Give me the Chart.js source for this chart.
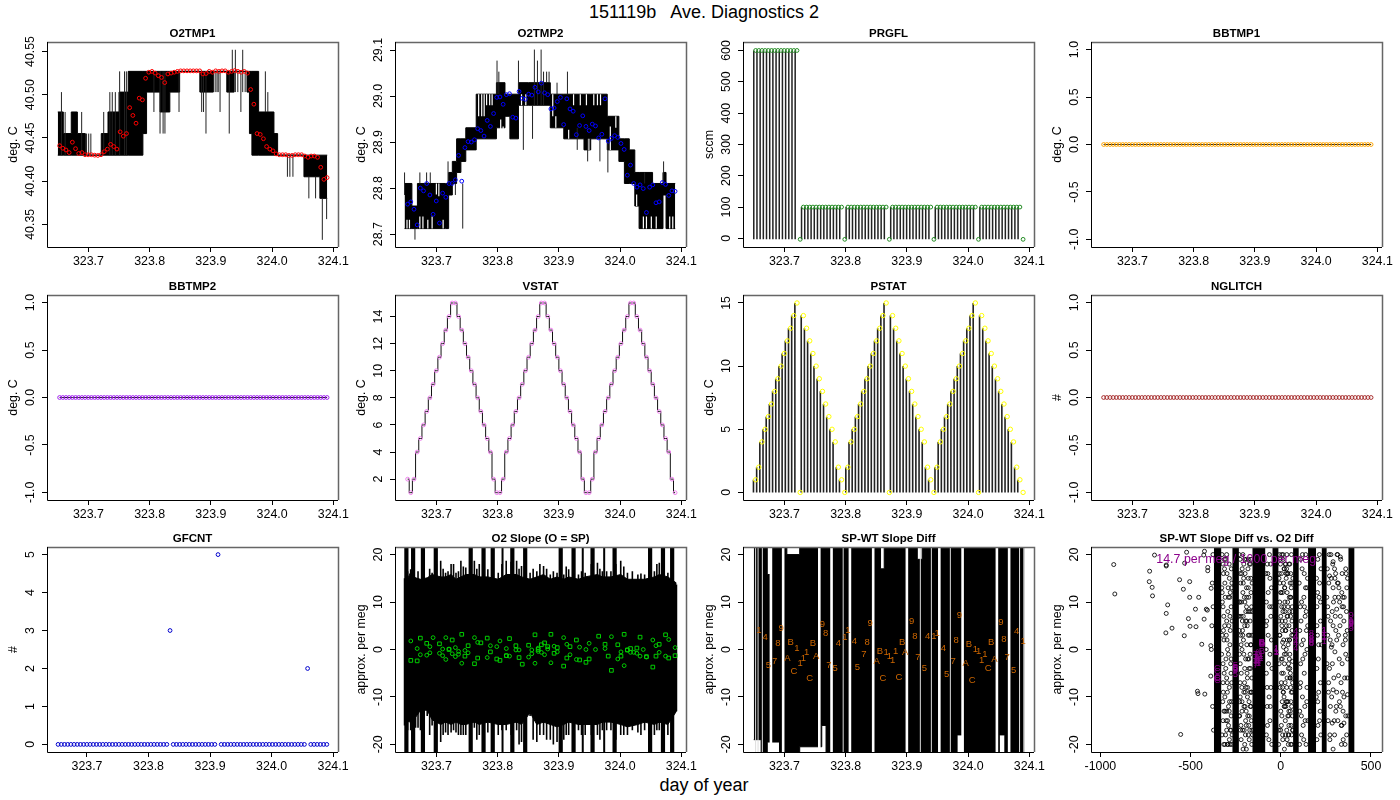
<!DOCTYPE html>
<html>
<head>
<meta charset="utf-8">
<title>151119b Ave. Diagnostics 2</title>
<script src="https://cdn.jsdelivr.net/npm/chart.js@4/dist/chart.umd.min.js"></script>
<style>
body { margin: 0; background: #fff; width: 1400px; height: 800px; overflow: hidden; position: relative; font-family: "Liberation Sans", sans-serif; }
canvas { position: absolute; }
.pagetext { position: absolute; left: 0; width: 1408px; text-align: center; white-space: pre; font-size: 18px; color: #000; line-height: 20px; }
</style>
</head>
<body>
<div class="pagetext" style="top:2px">151119b   Ave. Diagnostics 2</div>
<div class="pagetext" style="top:775px">day of year</div>
<script>
// sample times shared by the marker series
var times = [323.6530,323.6582,323.6634,323.6686,323.6738,323.6790,323.6842,323.6894,323.6946,323.6998,
323.7050,323.7102,323.7154,323.7206,323.7258,323.7310,323.7362,323.7414,323.7466,323.7518,
323.7570,323.7622,323.7674,323.7726,323.7778,323.7830,323.7882,323.7934,323.7986,323.8038,
323.8090,323.8142,323.8194,323.8246,323.8298,323.8350,323.8402,323.8454,323.8506,323.8558,
323.8610,323.8662,323.8714,323.8766,323.8818,323.8870,323.8922,323.8974,323.9026,323.9078,
323.9130,323.9182,323.9234,323.9286,323.9338,323.9390,323.9442,323.9494,323.9546,323.9598,
323.9650,323.9702,323.9754,323.9806,323.9858,323.9910,323.9962,324.0014,324.0066,324.0118,
324.0170,324.0222,324.0274,324.0326,324.0378,324.0430,324.0482,324.0534,324.0586,324.0638,
324.0690,324.0742,324.0794,324.0846,324.0898];

var timeTickLabels = ['323.7','323.8','323.9','324.0','324.1'];
var o2Tmp1TickLabels = ['40.35','40.40','40.45','40.50','40.55'];
var o2Tmp2TickLabels = ['28.7','28.8','28.9','29.0','29.1'];
var prgflTickLabels = ['0','100','200','300','400','500','600'];
var unitTickLabels = ['-1.0','-0.5','0.0','0.5','1.0'];
var vstatTickLabels = ['2','4','6','8','10','12','14'];
var pstatTickLabels = ['0','5','10','15'];
var gfcntTickLabels = ['0','1','2','3','4','5'];
var slopeTickLabels = ['-20','-10','0','10','20'];
var diffTickLabels = ['-1000','-500','0','500'];

// O2TMP1
var o2Tmp1Means = [40.441,40.438,40.436,40.433,40.445,40.4375,40.432,40.433,40.4305,40.4305,
40.4305,40.430,40.4297,40.4305,40.434,40.437,40.4425,40.440,40.437,40.457,
40.452,40.455,40.485,40.476,40.467,40.496,40.494,40.519,40.526,40.527,
40.525,40.522,40.520,40.514,40.524,40.525,40.526,40.527,40.5276,40.5276,
40.5276,40.5276,40.5276,40.5276,40.5276,40.524,40.5245,40.527,40.526,40.5276,
40.527,40.5276,40.5276,40.526,40.527,40.528,40.527,40.526,40.527,40.525,
40.506,40.489,40.455,40.454,40.449,40.440,40.437,40.435,40.4315,40.4305,
40.4305,40.4305,40.4297,40.4297,40.4305,40.4305,40.4305,40.429,40.4275,40.429,
40.429,40.4275,40.416,40.402,40.404];
var o2Tmp1BandTimes = [323.650,323.659,323.672,323.682,323.695,323.721,323.732,323.750,323.765,323.789,323.795,323.817,323.833,323.849,323.882,323.904,323.926,323.938,323.959,323.963,323.967,323.978,324.003,324.009,324.052,324.078,324.090];
var o2Tmp1BandHigh = [40.48,40.455,40.48,40.455,40.43,40.455,40.48,40.503,40.527,40.527,40.527,40.527,40.527,40.527,40.527,40.527,40.527,40.527,40.527,40.527,40.527,40.48,40.455,40.43,40.43,40.43,40.43];
var o2Tmp1BandLow = [40.43,40.43,40.43,40.43,40.43,40.43,40.43,40.43,40.43,40.455,40.503,40.48,40.503,40.527,40.503,40.527,40.503,40.527,40.503,40.455,40.43,40.43,40.43,40.43,40.405,40.38,40.38];
var o2Tmp1SpikeTimes = [323.656,323.662,323.689,323.697,323.7005,323.704,323.725,323.735,323.739,323.744,323.751,323.759,323.762,323.807,323.817,323.822,323.825,323.848,323.885,323.888,323.892,323.907,323.910,323.912,323.915,323.930,323.935,323.940,323.944,323.949,323.952,323.956,323.989,323.993,324.025,324.029,324.034,324.060,324.071,324.082,324.089];
var o2Tmp1SpikeLow = [40.43,40.43,40.43,40.43,40.43,40.43,40.43,40.43,40.43,40.43,40.43,40.43,40.43,40.48,40.455,40.455,40.455,40.48,40.48,40.48,40.455,40.503,40.503,40.503,40.48,40.455,40.527,40.503,40.503,40.48,40.503,40.503,40.48,40.48,40.405,40.405,40.405,40.38,40.38,40.332,40.356];
var o2Tmp1SpikeHigh = [40.503,40.48,40.48,40.455,40.455,40.455,40.48,40.503,40.503,40.503,40.527,40.527,40.527,40.527,40.527,40.527,40.527,40.527,40.527,40.527,40.527,40.527,40.527,40.527,40.527,40.527,40.552,40.552,40.527,40.527,40.552,40.527,40.527,40.503,40.43,40.43,40.43,40.405,40.405,40.38,40.38];

// O2TMP2
var o2Tmp2Means = [28.765,28.770,28.754,28.720,28.800,28.794,28.810,28.785,28.743,28.772,
28.724,28.789,28.780,28.810,28.810,28.818,28.871,28.815,28.888,28.901,
28.900,28.905,28.929,28.925,28.913,28.947,28.934,28.962,28.997,28.998,
28.982,29.003,29.005,28.954,28.952,29.010,28.995,28.993,29.004,29.002,
29.019,29.009,29.028,29.007,29.003,28.972,28.974,28.988,28.997,28.938,
28.994,28.972,28.967,28.916,28.936,28.957,28.934,28.925,28.939,28.935,
28.909,28.917,28.994,28.902,28.908,28.914,28.910,28.897,28.884,28.828,
28.850,28.810,28.802,28.807,28.799,28.747,28.802,28.807,28.768,28.770,
28.812,28.808,28.784,28.794,28.793];
var o2Tmp2BandTimes = [323.648,323.660,323.669,323.715,323.720,323.726,323.733,323.740,323.748,323.765,323.798,323.812,323.820,323.834,323.850,323.886,323.908,323.941,323.952,323.979,323.998,324.007,324.015,324.024,324.031,324.053,324.070,324.075,324.090];
var o2Tmp2BandHigh = [28.81,28.761,28.81,28.81,28.834,28.858,28.907,28.907,28.931,29.004,29.029,29.004,29.004,29.029,29.029,29.004,29.004,29.004,29.004,28.956,28.907,28.907,28.883,28.834,28.834,28.81,28.834,28.81,28.81];
var o2Tmp2BandLow = [28.712,28.712,28.712,28.712,28.785,28.81,28.834,28.858,28.883,28.907,28.931,28.956,28.907,28.98,28.98,28.931,28.907,28.883,28.907,28.883,28.858,28.81,28.81,28.761,28.712,28.712,28.785,28.712,28.712];
var o2Tmp2SpikeTimes = [323.648,323.665,323.673,323.684,323.690,323.719,323.731,323.743,323.799,323.802,323.834,323.842,323.857,323.860,323.865,323.871,323.875,323.880,323.884,323.897,323.914,323.930,323.947,323.967,323.980,324.040,324.071];
var o2Tmp2SpikeLow = [28.785,28.688,28.81,28.81,28.81,28.81,28.785,28.712,29.004,29.004,29.004,28.883,28.907,28.98,28.98,28.98,28.98,29.029,29.029,29.004,29.004,28.883,28.858,28.858,28.834,28.81,28.81];
var o2Tmp2SpikeHigh = [28.834,28.712,28.834,28.834,28.834,28.858,28.81,28.81,29.077,29.053,29.077,28.98,28.98,29.101,29.077,29.101,29.053,29.053,29.053,29.029,29.053,28.931,28.907,28.907,28.907,28.834,28.858];
// places the trace never reached inside the band
var o2Tmp2HoleTimes = [323.652,323.656,323.673,323.678,323.686,323.693,323.700,323.704,323.711,323.769,323.774,323.778,323.782,323.787,323.791,323.805,323.809,323.839,323.846,323.890,323.895,323.916,323.924,323.935,323.945,323.949,323.957,323.963,323.968,323.984,323.993,324.027,324.038,324.043,324.051,324.059,324.081,324.086];
var o2Tmp2HoleLow = [28.712,28.712,28.712,28.712,28.712,28.712,28.786,28.782,28.712,28.956,28.956,28.956,28.98,28.98,28.98,28.907,28.907,28.98,28.98,28.956,28.931,28.907,28.98,28.98,28.98,28.883,28.98,28.98,28.98,28.883,28.931,28.761,28.712,28.712,28.712,28.712,28.712,28.712];
var o2Tmp2HoleHigh = [28.731,28.731,28.738,28.738,28.731,28.738,28.81,28.81,28.731,29.004,29.004,29.004,29.004,29.004,29.004,28.949,28.934,29.004,29.004,29.004,28.956,28.927,29.004,29.004,29.004,28.907,29.004,29.004,29.004,28.934,28.956,28.786,28.738,28.738,28.738,28.738,28.738,28.738];

// PRGFL
var prgflValues = [600,600,600,600,600,600,600,600,600,600,600,600,600,600,-3,
100,100,100,100,100,100,100,100,100,100,100,100,100,-3,
100,100,100,100,100,100,100,100,100,100,100,100,100,-3,
100,100,100,100,100,100,100,100,100,100,100,100,100,-3,
100,100,100,100,100,100,100,100,100,100,100,100,100,-3,
100,100,100,100,100,100,100,100,100,100,100,100,100,-3];
var prgflSpikeBottom = -3;

// flat channels
var bbtmp1Values = [0,0,0,0,0,0,0,0,0,0,0,0,0,0,0,0,0,0,0,0,0,0,0,0,0,0,0,0,0,0,0,0,0,0,0,0,0,0,0,0,0,0,0,0,0,0,0,0,0,0,0,0,0,0,0,0,0,0,0,0,0,0,0,0,0,0,0,0,0,0,0,0,0,0,0,0,0,0,0,0,0,0,0,0,0];
var bbtmp2Values = bbtmp1Values;
var nglitchValues = bbtmp1Values;

// VSTAT, PSTAT
var vstatValues = [2,1,2,4,5,6,7,8,9,10,11,12,13,14,15,15,14,13,12,11,10,9,8,7,6,5,4,2,1,1,2,4,5,6,7,8,9,10,11,12,13,14,15,15,14,13,12,11,10,9,8,7,6,5,4,2,1,1,2,4,5,6,7,8,9,10,11,12,13,14,15,15,14,13,12,11,10,9,8,7,6,5,4,2,1];
var pstatValues = [1,2,4,5,6,7,8,9,10,11,12,13,14,15,0,14,13,12,11,10,9,8,7,6,5,4,2,1,0,2,4,5,6,7,8,9,10,11,12,13,14,15,0,14,13,12,11,10,9,8,7,6,5,4,2,1,0,2,4,5,6,7,8,9,10,11,12,13,14,15,0,14,13,12,11,10,9,8,7,6,5,4,2,1,0];

// GFCNT
var gfcntValues = [0,0,0,0,0,0,0,0,0,0,0,0,0,0,0,0,0,0,0,0,0,0,0,0,0,0,0,0,0,0,0,0,0,0,0,3,0,0,0,0,0,0,0,0,0,0,0,0,0,0,5,0,0,0,0,0,0,0,0,0,0,0,0,0,0,0,0,0,0,0,0,0,0,0,0,0,0,0,2,0,0,0,0,0,0];

// O2 Slope: open squares and circles are two channels, index into times
var slopeSquareIdx = [1,3,4,6,10,13,14,17,18,19,21,22,23,25,26,28,29,31,32,34,35,36,38,40,41,42,43,44,45,46,47,49,50,51,53,54,56,57,60,62,63,64,66,67,68,69,70,72,73,75,77,78,79,81,82,84];
var slopeSquareValues = [-2.3,-2.4,2.4,1.3,1.2,0,2.0,3.2,-1.4,0.8,-3.0,-1.8,1.4,2.4,-0.5,-2.0,-2.3,-1.3,2.3,0.8,-1.7,-3.1,0.9,3.1,0,1.0,1.4,0.6,3.2,-0.8,0.4,-3.5,-1.8,0.6,2.0,-2.2,-2.7,-2.0,2.8,1.1,-1.4,-4.4,1.0,-1.4,3.2,-0.1,0.2,0.3,2.6,-1.5,-3.7,-1.4,1.1,3.1,-1.8,-1.3];
var slopeCircleIdx = [1,3,4,6,7,7,8,10,11,11,12,12,13,14,15,15,16,16,17,18,19,21,22,25,26,28,29,31,31,32,34,35,38,39,39,40,41,41,42,43,44,45,46,47,49,50,51,53,54,56,57,59,62,64,66,67,68,69,70,71,72,73,74,75,77,78,79,81,82,84];
var slopeCircleValues = [1.8,0.2,-1.1,-1.2,0.6,-0.7,2.5,-0.8,0.1,-1.3,2.5,-2.1,0.1,-0.9,0.4,-1.5,-0.4,-1.0,-2.9,-0.2,-0.7,2.5,1.5,-1.7,0.8,0.6,1.8,0.2,-1.3,-1.4,-0.1,-0.1,-1.6,-0.9,-0.1,-2.9,0.3,-0.4,-0.6,-1.1,0.1,-2.8,0.7,-0.5,2.5,1.1,-1.1,-2.1,0.5,0,1.3,0,0.2,2.7,-2.0,-0.5,-3.4,-0.1,-0.6,-0.6,-0.8,-1.4,0,-1.6,2.0,0.8,-0.6,-1.4,2.1,0.4];
var slopeBandTimes = [323.648,323.658,323.666,323.674,323.685,323.693,323.707,323.715,323.724,323.732,323.740,323.748,323.762,323.770,323.784,323.801,323.814,323.831,323.839,323.853,323.864,323.875,323.886,323.897,323.908,323.916,323.932,323.943,323.963,323.971,323.985,324.001,324.012,324.029,324.040,324.056,324.064,324.078,324.092];
var slopeBandHigh = [13.5,16.3,15.1,14.8,15.1,15.8,15.3,15.3,15.8,14.8,15.3,15.8,15.8,15.3,15.3,14.8,15.8,15.8,15.3,14.8,15.3,15.8,14.8,15.3,14.8,15.3,14.8,15.3,15.8,15.3,15.3,15.8,14.8,14.8,14.8,15.3,15.8,15.3,14.0];
var slopeBandLow = [-15,-15.3,-14.3,-12.8,-12.8,-14.8,-15.8,-15.3,-15.8,-15.3,-15.8,-15.8,-15.3,-15.8,-15.3,-15.8,-15.8,-15.3,-15.8,-13.3,-15.8,-15.3,-15.8,-16.3,-15.8,-15.3,-15.8,-15.8,-15.8,-15.3,-15.3,-15.8,-16.3,-15.8,-15.3,-15.8,-15.3,-15.8,-13];
var slopeSpikeHigh = [15,16.9,14.8,14.8,14.8,16.2,18.7,16.2,18,16.2,18.7,17.3,18.7,18,16.9,16.2,18.7,18.7,17.6,16.2,16.5,17.6,15.8,16.2,15.8,16.9,15.8,16.2,18.3,16.5,16.5,18.7,16.2,15.8,15.8,16.5,18.3,16.2,13.7];
var slopeSpikeLow = [-16,-17,-16.5,-17,-14,-16,-19.5,-17.5,-17.5,-17.5,-18,-18,-16.5,-18,-17.5,-18,-17,-17,-19.5,-14,-19.5,-18,-19,-19.5,-19,-18,-17,-18,-18,-17,-17,-18,-18,-17.5,-17,-18,-17,-18,-13];
var slopeFuzzTimes = [323.653,323.662,323.670,323.679,323.689,323.700,323.711,323.719,323.728,323.736,323.744,323.755,323.766,323.777,323.792,323.807,323.822,323.835,323.846,323.858,323.869,323.880,323.891,323.902,323.912,323.924,323.937,323.953,323.967,323.978,323.993,324.006,324.020,324.034,324.048,324.060,324.071,324.085];
var slopeFuzzHigh = [16.5,16.5,16.5,17,17,18,17,16.5,18,16.5,17.5,18.5,17,17.5,16.5,18,18.5,17,16.5,17,18,17,16.5,17,17.5,17,16.5,18,17,16.5,18,17.5,16.5,16,17,18,17,16];
var slopeFuzzLow = [-17,-18,-16.5,-17,-18,-19,-18,-18,-17,-18,-18,-17,-19,-18,-19,-17,-18,-20,-18,-19,-18,-19,-20,-19,-18,-19,-18,-18,-19,-17,-19,-18,-17,-18,-18,-17,-18,-17];
var slopeWideTimes = [323.651,323.662,323.678,323.699,323.756,323.777,323.792,323.824,323.845,323.903,323.924,323.955,323.991,324.049,324.070,324.085];
var slopeNarrowTimes = [323.808,323.939,323.974];

// SP-WT slope diff, plotted as characters
var diffChars = ['1','4','5','7','8','9','A','B','C','1','1','1','1','C','B','A','9','8','7','5','4','1','1','4','5','7','8','9','A','B','C','1','1','1','1','C','B','A','9','8','7','5','4','1','1','4','5','7','8','9','A','B','C','1','1','1','1','C','B','A','9','8','7','5','4','1'];
var diffCharIdx = [1,3,4,6,7,8,10,11,12,13,14,15,16,17,18,19,21,22,23,25,26,28,29,31,32,34,35,36,38,39,40,41,42,43,44,45,46,47,49,50,51,53,54,56,57,59,60,62,63,64,66,67,68,69,70,71,72,73,74,75,77,78,79,81,82,84];
var diffCharValues = [4.0,2.5,-3.4,-2.5,1.3,4.5,-1.9,1.5,-4.7,0.2,-3.0,-1.8,-0.6,-6.1,1.3,-1.4,5.4,3.4,-3.3,-4.0,1.3,2.5,4.1,1.7,-3.8,-1.1,1.5,5.5,-2.5,-0.4,-6.1,-0.6,-1.5,-2.3,-0.4,-5.9,1.5,-0.6,5.9,2.8,-1.7,-4.0,2.8,2.8,3.4,0.2,-5.3,-2.5,1.9,7.2,-3.0,1.1,-6.6,0,-0.5,-2.3,-1.1,-4.0,1.5,-2.1,5.7,2.1,-1.7,-4.5,3.8,1.7];
var diffBandTimes = [323.650,323.662,323.672,323.678,323.692,323.704,323.725,323.761,323.768,323.857,323.863,323.917,323.925,323.982,323.993,324.051,324.060,324.092];
var diffBandHigh = [22,22,15.8,22,22,20,22,22,22,17,22,19,22,22,22,22,22,22];
var diffBandLow = [-19,-22,-19.5,-19.5,-22,-22,-20.5,-16,-22,-22,-22,-22,-22,-18,-22,-18,-22,-22];
var diffWideGapTimes = [323.678,323.698,323.757,323.777,323.807,323.845,323.900,323.953,323.991,324.047,324.067];
var diffNarrowGapTimes = [323.653,323.657,323.664,323.796,323.922,323.940,323.971,324.084,324.091];

// slope diff vs O2 diff
var vsCharO2Diff = [240,83,-251,-140,170,390,-130,-105,-351,-25,-125,-110,-25,-351,-105,-130,390,170,-140,-251,83,240,240,83,-251,-140,170,390,-130,-105,-351,-25,-110,-125,-25,-351,-105,-130,390,170,-140,-251,83,240,240,83,-251,-140,170,390,-130,-105,-351,-25,-25,-125,-110,-351,-105,-130,390,170,-140,-251,83,240];
var vsColumnStart = [-371,-269,-158,-47,68,151,226,374];
var vsColumnEnd = [-329,-232,-85,-12,100,196,255,409];
var vsScatterX = [-926,-920,-727,-729,-713,-711,-700,-635,-635,-627,-635,-603,-637,-522,-533,-561,-540,-505,-505,-455,-473,-413,-407,-425,-512,-503,-470,-535,-438,-388,-386,-423,-427,-405,-405,-388,-462,-459,-421,-555,
-320,-300,-285,-310,-290,-320,-300,-280,-315,-295,-275,-320,-300,-285,-310,-290,-275,-320,-300,-285,-310,-275,-295,-325,-305,-282,-272,-315,-290,-270,
-225,-200,-180,-165,-210,-190,-170,-220,-200,-180,-165,-215,-195,-175,-160,-225,-205,-185,-165,-215,-195,-175,-160,-220,-200,-180,-225,-190,-205,-170,-212,-185,-230,-168,-198,-178,-228,-208,-162,-188,
-75,-60,-80,-55,-70,-60,-80,-55,-75,-60,-80,-50,-70,-65,-52,-82,
5,20,30,50,10,40,55,0,25,45,60,10,30,50,65,20,5,35,55,15,40,60,0,25,45,10,35,55,65,20,-5,12,28,42,58,3,18,33,48,63,-8,8,22,38,52,66,15,30,44,6,
110,130,145,115,135,105,125,145,110,130,145,120,105,135,115,140,
205,215,200,220,210,200,220,205,215,200,
290,315,330,360,370,270,290,300,320,340,285,310,330,350,290,305,320,345,280,300,360,340,320,290,310,350,370,275,305,345,360,285,335,350,365,290,260,265,270,255,330,262,278,298,318,338,358,368,325,272];
var vsScatterY = [17.9,11.7,16.5,14.3,13.1,11.3,19.9,17.8,17.6,9.4,7.6,4.5,3.5,20.5,18.2,14.7,12.7,14.3,11,11,8.5,8.5,8.3,6.4,6.5,4.9,4.8,2.9,1.1,0.8,12.9,20.7,19.9,17.3,16.6,-5.6,-8.8,-9.3,-9.4,-17.9,
18,20,15,14,11,9,6,4,2,0,-2,-3,-6,-8,-10,-12,-14,-15,-17,-19,-20,9,-15,12,-4,7,13,-13,-1,-18,
16,19,15,12,12,9,8,7,5,3,1,0,-2,-4,-6,-7,-9,-10,-12,-13,-15,-14,-17,-19,-20,-18,-3,13,-1,-1,4,-6,10,18,-12,-16,-14,14,-9,6,
18,15,10,7,3,-1,-5,-8,-12,-15,-18,-20,12,-10,2,5,
20,17,15,18,12,9,11,7,6,5,3,1.5,0,-1,-2.5,-3,-5,-6,-8,-9,-11,-12,-13,-15,-16,-18,-19,-20,-14,-21,14,19,4,-4,13,-7,-10,-17,2,8,16,-2,-12,10,-6,-17,0.5,16,-14,5,
19,16,13,10,7,4,2,0,-3,-5,-8,-10,-13,-15,-18,-20,
19,14,9,6,1,-4,-7,-11,-15,-19,
18.5,20,19.5,17,15,15.5,13,11,11,9,8,8.5,7,6,5,4,3,1,0.5,-0.5,-1,-3,-5.5,-8.5,-9,-10,-9.5,-12,-13,-13,-14,-15.5,-16,-15.5,-18,-21,3,-7,-4,11,-12,7,20,17,14,12,2,-6,-11,-19];
// the gaps between the solid columns, one pair per gap
var vsGapAX = [-326,-318,-312,-306,-298,-292,-286,-280,-274,-270,-324,-316,-308,-302,-294,-288,-282,-276,-328,-320,-314,-304,-296,-284,-278,-272,-322,-310,-300,-290,-326,-316,-306,-296,-286,-276,-318,-298,-280,-272,-380,-375,-385,-378,-373,-382,-376];
var vsGapAY = [20,16,17,19,16,13,18,12,17,6,10,7,11,3,8,5,1,-5,-1,-7,-5,-2,-9,-11,-3,-7,-11,-13,-13,-16,-18,-20,-18,-20,-13,-17,4,2,-17,-20,14,9,0,-12,-17,5,20];
var vsGapBX = [-230,-226,-222,-218,-214,-210,-206,-202,-198,-194,-190,-186,-182,-178,-174,-170,-166,-162,-160,-228,-224,-220,-216,-212,-208,-204,-200,-196,-192,-188,-184,-180,-176,-172,-168,-164,-231,-219,-207,-193,-181,-169,-229,-217,-203,-191,-177,-163,-227,-213,-199,-187,-173,-161,-223,-209,-195,-183,-171,-159];
var vsGapBY = [4,19,14,10,17,20,15,11,16,8,19,5,17,11,18,6,15,9,3,-11,-17,1,-8,-17,7,-12,-4,-18,-13,1,-8,13,-11,-17,-4,-9,-14,-5,2,-8,8,-12,-1,16,-17,-21,-2,-15,10,6,10,-5,3,-20,3,-21,6,-14,-9,14];
var vsGapCX = [-83,-78,-72,-68,-62,-58,-52,-49,-81,-74,-66,-56,-50,-76,-63];
var vsGapCY = [16,6,16,-3,9,-12,13,-4,0,-16,-19,18,9,-8,20];
var vsGapDX = [-10,-6,-2,2,6,9,13,17,21,24,27,31,34,37,41,44,47,51,54,57,61,64,67,-9,-3,1,7,11,16,19,23,26,32,36,39,43,46,49,53,56,59,62,66,-11,-4,4,14,22,29,35,42,48,52,58,63,67,-7,-1,8,18,25,33,38,47,55,60,65,-12,12,28];
var vsGapDY = [15,10,18,-2,-14,4,20,9,13,-7,18,5,-11,16,1,-18,11,-6,7,-16,14,-9,3,-3,19,12,6,-19,2,-12,10,-18,17,2,-14,-3,18,8,-5,-11,20,6,-17,6,-8,16,-5,13,-1,12,-20,2,14,-9,9,15,3,-17,-11,17,4,-8,7,-2,16,-18,-6,-20,8,-12];
var vsGapEX = [102,106,112,118,122,128,133,138,142,148,150,104,110,116,124,131,137,144,149,108,114,120,127,134,141];
var vsGapEY = [14,-8,6,17,-2,11,-12,20,4,15,-15,-20,-7,1,-16,9,13,-11,5,9,-14,20,-19,-1,8];
var vsGapFX = [198,203,208,212,218,223,225,197,206,214,222,200,210,220,204];
var vsGapFY = [15,3,-2,11,-13,17,1,-10,-16,20,-18,5,-9,10,12];
var vsGapGX = [258,262,268,274,280,286,292,298,304,310,316,322,328,334,340,346,352,358,364,370,372,260,266,272,282,288,294,302,308,314,324,332,338,344,354,362,368,256,276,296,312,326,342,356,366,264,284,300,336,348];
var vsGapGY = [17,-15,20,2,15,-3,10,-18,16,2,-15,13,5,-7,16,-19,11,3,8,-2,-14,9,14,-18,-10,18,-6,7,-12,14,-2,19,-16,11,-6,16,4,-3,6,-15,20,10,-9,-20,13,-9,1,15,-20,9];
var vsGapHX = [-327,-319,-311,-303,-293,-283,-273,-325,-313,-297,-281,-271,-233,-221,-211,-201,-191,-179,-167,-157,-231,-215,-197,-183,-165,-225,-205,-189,-175,-159,-10,-5,0,5,10,15,20,25,30,35,40,45,50,55,60,65,-8,3,13,23,33,43,53,63];
var vsGapHY = [13,-9,5,-15,-20,11,-11,3,19,-7,-20,14,7,-16,3,-7,-16,19,1,-18,20,-11,-9,-2,19,-10,18,11,-19,8,-17,3,12,9,-8,14,-1,18,-11,7,16,-13,-4,11,-20,-7,20,-16,-9,8,20,-18,-13,4];
var vsNoteText = ['14.7 per meg / 1000 per meg'];
var vsNoteX = [-247];
var vsNoteY = [18.9];

var TICK_FONT = '"Liberation Sans", sans-serif';
var TICK_SIZE = 12.4;
var measureCtx = document.createElement('canvas').getContext('2d');

function xy(xs, ys) {
  return xs.map(function(x, i) { return {x: x, y: ys[i]}; });
}

function atIndex(idx) {
  return idx.map(function(i) { return times[i]; });
}

// vertical strokes as one broken line
function vlines(xs, lows, highs, colour, width) {
  var pts = [];
  xs.forEach(function(x, i) {
    pts.push({x: x, y: lows[i]}, {x: x, y: highs[i]}, {x: x, y: null});
  });
  return {data: pts, borderColor: colour, borderWidth: width, pointRadius: 0, spanGaps: false, fill: false};
}

function sameAll(xs, v) {
  return xs.map(function() { return v; });
}

// filled band between two traces
function band(xs, highs, lows, stepped) {
  return [
    {data: xy(xs, highs), borderColor: '#000', borderWidth: 1, pointRadius: 0, stepped: stepped, fill: '+1', backgroundColor: '#000'},
    {data: xy(xs, lows), borderColor: '#000', borderWidth: 1, pointRadius: 0, stepped: stepped, fill: false}
  ];
}

function markers(xs, ys, colour, style, size) {
  return {data: xy(xs, ys), showLine: false, pointStyle: style || 'circle', pointRadius: size || 1.9,
    pointBorderColor: colour, pointBackgroundColor: 'rgba(0,0,0,0)', pointBorderWidth: 1, fill: false};
}

function thinMarkers(xs, ys) {
  var m = markers(xs, ys, '#000', 'circle', 2);
  m.pointBorderWidth = 0.85;
  return m;
}

function blackLine(xs, ys, stepped) {
  return {data: xy(xs, ys), borderColor: '#111', borderWidth: 1, pointRadius: 0, stepped: stepped || false, fill: false};
}

function charSeries(xs, ys, chars, colour, font) {
  return {data: xy(xs, ys), showLine: false, pointRadius: 0, chars: chars, charColour: colour, charFont: font, fill: false};
}

// draws the box round the plot and any character markers
var panelPlugin = {
  id: 'panelExtras',
  afterDatasetsDraw: function(chart) {
    var c = chart.ctx;
    chart.data.datasets.forEach(function(ds, i) {
      if (!ds.chars) return;
      c.save();
      c.fillStyle = ds.charColour;
      c.font = ds.charFont;
      c.textAlign = 'center';
      c.textBaseline = 'middle';
      chart.getDatasetMeta(i).data.forEach(function(pt, j) {
        c.fillText(ds.chars[j], pt.x, pt.y);
      });
      c.restore();
    });
    var a = chart.chartArea;
    c.save();
    c.lineWidth = 1.5;
    c.strokeStyle = '#666';
    c.beginPath();
    c.moveTo(a.left, a.top + 0.5);
    c.lineTo(a.right + 0.5, a.top + 0.5);
    c.lineTo(a.right + 0.5, a.bottom);
    c.stroke();
    c.lineWidth = 1;
    c.strokeStyle = '#000';
    c.beginPath();
    c.moveTo(a.left + 0.5, a.top);
    c.lineTo(a.left + 0.5, a.bottom + 0.5);
    c.lineTo(a.right, a.bottom + 0.5);
    c.stroke();
    c.restore();
  }
};

function panel(col, row, title, yLabel, yRange, yTickLabels, datasets, xRange, xTickLabels) {
  var canvas = document.createElement('canvas');
  canvas.width = 352;
  canvas.height = 249;
  canvas.style.left = (col * 348) + 'px';
  canvas.style.top = [24, 277, 529][row] + 'px';
  document.body.appendChild(canvas);

  measureCtx.font = TICK_SIZE + 'px "Liberation Sans"';
  var widest = 0;
  yTickLabels.forEach(function(l) { widest = Math.max(widest, measureCtx.measureText(l).width); });

  xRange = xRange || [323.6324, 324.1076];
  xTickLabels = xTickLabels || timeTickLabels;

  new Chart(canvas, {
    type: 'line',
    data: {datasets: datasets},
    plugins: [panelPlugin],
    options: {
      responsive: false,
      animation: false,
      devicePixelRatio: 1,
      layout: {padding: {left: 0, right: 14, top: 0, bottom: 0}},
      plugins: {
        legend: {display: false},
        tooltip: {enabled: false},
        title: {display: true, fullSize: false, text: title, color: '#000', padding: {top: 3, bottom: 1},
          font: {family: TICK_FONT, size: 11.5, weight: 'bold', lineHeight: '14px'}}
      },
      scales: {
        x: {
          type: 'linear', min: xRange[0], max: xRange[1],
          grid: {drawOnChartArea: false, drawTicks: true, tickLength: 5, tickColor: '#000'},
          border: {display: false},
          afterBuildTicks: function(s) { s.ticks = xTickLabels.map(function(l) { return {value: Number(l)}; }); },
          afterFit: function(s) { s.height = 26; },
          ticks: {autoSkip: false, maxRotation: 0, minRotation: 0, padding: 2, color: '#000',
            font: {family: TICK_FONT, size: TICK_SIZE},
            callback: function(v, i) { return xTickLabels[i]; }}
        },
        y: {
          type: 'linear', min: yRange[0], max: yRange[1],
          grid: {drawOnChartArea: false, drawTicks: true, tickLength: 5, tickColor: '#000'},
          border: {display: false},
          afterBuildTicks: function(s) { s.ticks = yTickLabels.map(function(l) { return {value: Number(l)}; }); },
          afterFit: function(s) { s.width = 47; },
          title: {display: true, text: yLabel, color: '#000', padding: {top: 6, bottom: 0},
            font: {family: TICK_FONT, size: TICK_SIZE}},
          ticks: {autoSkip: false, minRotation: 90, maxRotation: 90, crossAlign: 'center',
            padding: 11 - widest / 2, color: '#000',
            font: {family: TICK_FONT, size: TICK_SIZE},
            callback: function(v, i) { return yTickLabels[i]; }}
        }
      }
    }
  });
}

var flatRange = [-1.08, 1.08];
var slopeRange = [-21.6, 21.6];

// first row. Dataset 0 is painted last in Chart.js, so markers go first
panel(0, 0, 'O2TMP1', 'deg. C', [40.3237, 40.561], o2Tmp1TickLabels, [
  markers(times, o2Tmp1Means, '#FF0000'),
  vlines(o2Tmp1SpikeTimes, o2Tmp1SpikeLow, o2Tmp1SpikeHigh, '#222', 1)
].concat(band(o2Tmp1BandTimes, o2Tmp1BandHigh, o2Tmp1BandLow, true)));

panel(1, 0, 'O2TMP2', 'deg. C', [28.672, 29.1174], o2Tmp2TickLabels, [
  markers(times, o2Tmp2Means, '#0000FF'),
  vlines(o2Tmp2SpikeTimes, o2Tmp2SpikeLow, o2Tmp2SpikeHigh, '#222', 1),
  vlines(o2Tmp2HoleTimes, o2Tmp2HoleLow, o2Tmp2HoleHigh, '#fff', 1.2)
].concat(band(o2Tmp2BandTimes, o2Tmp2BandHigh, o2Tmp2BandLow, true)));

panel(2, 0, 'PRGFL', 'sccm', [-27.5, 627], prgflTickLabels, [
  markers(times, prgflValues, '#228B22'),
  vlines(times.map(function(t) { return t - 0.003; }), sameAll(times, prgflSpikeBottom), prgflValues, '#222', 1.5)
]);

panel(3, 0, 'BBTMP1', 'deg. C', flatRange, unitTickLabels, [
  markers(times, bbtmp1Values, '#FFA500'),
  blackLine(times, bbtmp1Values)
]);

// second row
panel(0, 1, 'BBTMP2', 'deg. C', flatRange, unitTickLabels, [
  markers(times, bbtmp2Values, '#A020F0'),
  blackLine(times, bbtmp2Values)
]);

panel(1, 1, 'VSTAT', 'deg. C', [0.46, 15.59], vstatTickLabels, [
  markers(times, vstatValues, '#EE82EE'),
  blackLine(times, vstatValues, 'middle')
]);

panel(2, 1, 'PSTAT', 'deg. C', [-0.6, 15.63], pstatTickLabels, [
  markers(times, pstatValues, '#FFFF00', 'circle', 2.2),
  vlines(times.map(function(t) { return t - 0.0035; }), sameAll(times, 0), pstatValues, '#222', 1.6)
]);

panel(3, 1, 'NGLITCH', '#', flatRange, unitTickLabels, [
  markers(times, nglitchValues, '#A52A2A')
]);

// third row
panel(0, 2, 'GFCNT', '#', [-0.2, 5.2], gfcntTickLabels, [
  markers(times, gfcntValues, '#0000CD')
], [323.635, 324.108]);

panel(1, 2, 'O2 Slope (O = SP)', 'approx. per meg', slopeRange, slopeTickLabels, [
  markers(atIndex(slopeCircleIdx), slopeCircleValues, '#00CD00'),
  markers(atIndex(slopeSquareIdx), slopeSquareValues, '#00CD00', 'rect', 2.6),
  vlines(slopeWideTimes, sameAll(slopeWideTimes, -22), sameAll(slopeWideTimes, 22), '#000', 4.2),
  vlines(slopeNarrowTimes, sameAll(slopeNarrowTimes, -22), sameAll(slopeNarrowTimes, 22), '#000', 2),
  vlines(slopeBandTimes, slopeSpikeLow, slopeSpikeHigh, '#000', 1.6),
  vlines(slopeFuzzTimes, slopeFuzzLow, slopeFuzzHigh, '#000', 1.6)
].concat(band(slopeBandTimes, slopeBandHigh, slopeBandLow, false)));

panel(2, 2, 'SP-WT Slope Diff', 'approx. per meg', slopeRange, slopeTickLabels, [
  charSeries(atIndex(diffCharIdx), diffCharValues, diffChars, '#CD6600', '9.5px "Liberation Sans"'),
  vlines(diffWideGapTimes, sameAll(diffWideGapTimes, -22), sameAll(diffWideGapTimes, 22), '#fff', 2.6),
  vlines(diffNarrowGapTimes, sameAll(diffNarrowGapTimes, -22), sameAll(diffNarrowGapTimes, 22), '#ddd', 1)
].concat(band(diffBandTimes, diffBandHigh, diffBandLow, true)));

var vsColumns = vsColumnStart.map(function(s, i) {
  return {data: [{x: s, y: 22}, {x: vsColumnEnd[i], y: 22}], borderColor: '#000', borderWidth: 1,
    pointRadius: 0, fill: {value: -22}, backgroundColor: '#000'};
});
panel(3, 2, 'SP-WT Slope Diff vs. O2 Diff', 'approx. per meg', slopeRange, slopeTickLabels, [
  charSeries(vsCharO2Diff, diffCharValues, diffChars, '#8B008B', '9.5px "Liberation Sans"'),
  charSeries(vsNoteX, vsNoteY, vsNoteText, '#8B008B', '12.4px "Liberation Sans"'),
  thinMarkers(vsScatterX, vsScatterY),
  thinMarkers(vsGapAX, vsGapAY),
  thinMarkers(vsGapBX, vsGapBY),
  thinMarkers(vsGapCX, vsGapCY),
  thinMarkers(vsGapDX, vsGapDY),
  thinMarkers(vsGapEX, vsGapEY),
  thinMarkers(vsGapFX, vsGapFY),
  thinMarkers(vsGapGX, vsGapGY),
  thinMarkers(vsGapHX, vsGapHY)
].concat(vsColumns), [-1052, 561], diffTickLabels);
</script>
</body>
</html>
